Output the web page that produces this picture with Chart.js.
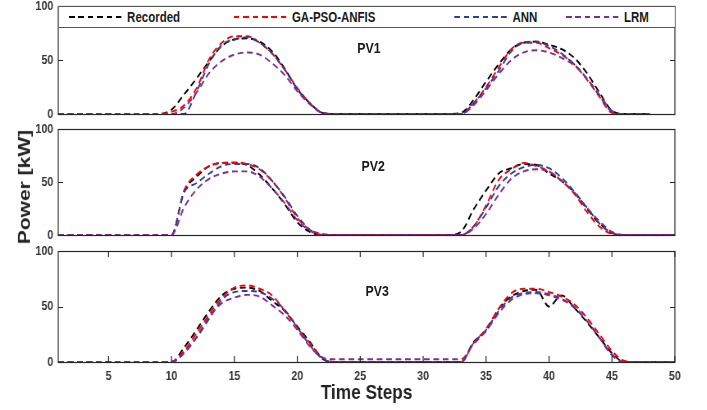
<!DOCTYPE html>
<html>
<head>
<meta charset="utf-8">
<script src="https://cdn.jsdelivr.net/npm/chart.js@4.4.1/dist/chart.umd.min.js"></script>
<style>
  body { margin: 0; background: #fff; overflow: hidden; }
  /* the reference is squeezed horizontally, so draw wider and squeeze */
  #wrap {
    position: relative; width: 862px; height: 410px; overflow: hidden;
    transform: scaleX(0.82); transform-origin: 0 0;
    font-family: 'Liberation Sans', Arial, sans-serif;
    font-weight: bold; color: #1a1a1a;
  }
  canvas { position: absolute; left: 0; }
  .pv { position: absolute; font-size: 15px; transform: translate(-50%, -50%); }
  #ylabel {
    position: absolute; left: 29px; top: 187px; white-space: nowrap;
    font-size: 21px; color: #222;
    transform: translate(-50%, -50%) rotate(-90deg);
  }
  #legend {
    position: absolute; left: 71px; top: 6px; width: 753px; height: 22px;
    box-sizing: border-box; border: 1px solid #555; background: #fff;
  }
  .item { position: absolute; top: 0; height: 20px; }
  .item .sample { position: absolute; left: 0; top: 9px; width: 64px; height: 2px; }
  .item .name { position: absolute; left: 71px; top: 2px; font-size: 14px; white-space: nowrap; }
</style>
</head>
<body>
<div id="wrap">
  <canvas id="p1" width="862" height="121" style="top:0"></canvas>
  <canvas id="p2" width="862" height="120" style="top:122px"></canvas>
  <canvas id="p3" width="862" height="166" style="top:244px"></canvas>
  <div id="legend"></div>
  <div class="pv" style="left:450px; top:47px">PV1</div>
  <div class="pv" style="left:455px; top:165px">PV2</div>
  <div class="pv" style="left:460px; top:290px">PV3</div>
  <div id="ylabel">Power [kW]</div>
</div>
<script>
const steps = [1, 2, 3, 4, 5, 6, 7, 8, 9, 10, 11, 12, 13, 14, 15, 16, 17, 18, 19, 20,
  21, 22, 23, 24, 25, 26, 27, 28, 29, 30, 31, 32, 33, 34, 35, 36, 37, 38, 39, 40,
  41, 42, 43, 44, 45, 46, 47, 48, 49, 50];
const xTickLabels = [5, 10, 15, 20, 25, 30, 35, 40, 45, 50];
const yTicks = [0, 50, 100];

const seriesNames = ['Recorded', 'GA-PSO-ANFIS', 'ANN', 'LRM'];
const seriesColors = ['#000000', '#ff0000', '#2b3f9e', '#7e2f8e'];

// PV1 (ends at step 48)
const recorded1 = [0, 0, 0, 0, 0, 0, 0, 0, 0, 4, 18, 33, 49, 63, 69, 70, 67, 58, 42, 23,
  10, 1, 0, 0, 0, 0, 0, 0, 0, 0, 0, 0, 1, 13, 30, 46, 60, 66, 67, 64,
  60, 52, 38, 20, 3, 0, 0, 0];
const gaPso1 = [0, 0, 0, 0, 0, 0, 0, 0, 0, 2, 8, 24, 51, 66, 72, 72, 66, 56, 41, 24,
  10, 1, 0, 0, 0, 0, 0, 0, 0, 0, 0, 0, 0, 10, 25, 43, 60, 66, 66, 61,
  55, 46, 32, 16, 1, 0, 0, 0];
const ann1 = [0, 0, 0, 0, 0, 0, 0, 0, 0, 0, 0, 21, 47, 64, 69, 71, 66, 56, 41, 23,
  10, 1, 0, 0, 0, 0, 0, 0, 0, 0, 0, 0, 0, 10, 24, 40, 58, 66, 67, 63,
  56, 46, 33, 17, 2, 0, 0, 0];
const lrm1 = [0, 0, 0, 0, 0, 0, 0, 0, 0, 0, 6, 20, 38, 49, 55, 57, 55, 47, 36, 21,
  9, 1, 0, 0, 0, 0, 0, 0, 0, 0, 0, 0, 0, 8, 22, 37, 50, 57, 59, 57,
  52, 45, 33, 18, 3, 0, 0, 0];

// PV2
const recorded2 = [0, 0, 0, 0, 0, 0, 0, 0, 0, 0, 41, 55, 65, 68, 68, 66, 57, 44, 29, 12,
  3, 0, 0, 0, 0, 0, 0, 0, 0, 0, 0, 0, 3, 24, 42, 58, 63, 67, 66, 58,
  51, 40, 25, 11, 2, 0, 0, 0, 0, 0];
const gaPso2 = [0, 0, 0, 0, 0, 0, 0, 0, 0, 0, 42, 57, 65, 68, 68.5, 67, 62, 51, 35, 16,
  5, 1, 0, 0, 0, 0, 0, 0, 0, 0, 0, 0, 0, 8, 28, 52, 62, 68, 65, 60,
  51, 39, 22, 8, 1, 0, 0, 0, 0, 0];
const ann2 = [0, 0, 0, 0, 0, 0, 0, 0, 0, 0, 40, 49, 58, 65, 67, 67, 63, 51, 36, 18,
  5, 0, 0, 0, 0, 0, 0, 0, 0, 0, 0, 0, 0, 8, 26, 46, 58, 64, 66, 63,
  54, 41, 26, 11, 2, 0, 0, 0, 0, 0];
const lrm2 = [0, 0, 0, 0, 0, 0, 0, 0, 0, 0, 26, 43, 53, 58, 60, 60, 55, 44, 30, 14,
  4, 0, 0, 0, 0, 0, 0, 0, 0, 0, 0, 0, 0, 6, 20, 38, 53, 60, 62, 60,
  51, 40, 26, 13, 3, 0, 0, 0, 0, 0];

// PV3
const recorded3 = [0, 0, 0, 0, 0, 0, 0, 0, 0, 0, 13, 29, 46, 60, 66, 67, 64, 55, 46, 32,
  18, 3, 0, 0, 0, 0, 0, 0, 0, 0, 0, 0, 0, 18, 28, 48, 59, 64, 65, 50,
  60, 49, 36, 22, 8, 0, 0, 0, 0, 0];
const gaPso3 = [0, 0, 0, 0, 0, 0, 0, 0, 0, 0, 10, 26, 43, 58, 67, 69, 66, 60, 46, 31,
  17, 4, 0, 0, 0, 0, 0, 0, 0, 0, 0, 0, 0, 17, 30, 48, 62, 66, 66, 63,
  59, 52, 40, 25, 10, 1, 0, 0, 0, 0];
const ann3 = [0, 0, 0, 0, 0, 0, 0, 0, 0, 0, 8, 22, 39, 56, 63, 64, 63, 57, 47, 31,
  15, 3, 0, 0, 0, 0, 0, 0, 0, 0, 0, 0, 0, 17, 29, 46, 58, 62, 63, 61,
  57, 49, 37, 22, 6, 0, 0, 0, 0, 0];
const lrm3 = [0, 0, 0, 0, 0, 0, 0, 0, 0, 0, 8, 23, 41, 53, 58, 60.5, 59, 51, 42, 29,
  14, 4, 2.5, 2.5, 2.5, 2.5, 2.5, 2.5, 2.5, 2.5, 2.5, 2.5, 2.5, 16, 28, 44, 56, 61, 62, 60,
  56, 50, 37, 22, 7, 0, 0, 0, 0, 0];

const panels = [
  [recorded1, gaPso1, ann1, lrm1],
  [recorded2, gaPso2, ann2, lrm2],
  [recorded3, gaPso3, ann3, lrm3],
];

const fontFamily = "'Liberation Sans', Arial, sans-serif";
const tickColor = '#333';

const framePlugin = {
  id: 'frame',
  afterDatasetsDraw(chart, args, opts) {
    const { ctx, chartArea: a, scales: { x, y } } = chart;
    ctx.save();
    ctx.strokeStyle = '#262626';
    ctx.lineWidth = 1.2;
    ctx.strokeRect(a.left, a.top + 0.5, a.right - a.left, a.bottom - a.top);
    ctx.beginPath();
    for (const v of yTicks) {
      const py = Math.round(y.getPixelForValue(v)) + 0.5;
      ctx.moveTo(a.left, py);
      ctx.lineTo(a.left + 6, py);
      ctx.moveTo(a.right - 6, py);
      ctx.lineTo(a.right, py);
    }
    if (opts.xTicks) {
      for (const v of xTickLabels) {
        const px = x.getPixelForValue(steps.indexOf(v));
        ctx.moveTo(px, a.top);
        ctx.lineTo(px, a.top + 6);
        ctx.moveTo(px, a.bottom);
        ctx.lineTo(px, a.bottom - 6);
      }
    }
    ctx.stroke();
    ctx.restore();
  },
};

const createPanel = (id, series, showX, padTop, padBottom) => {
  return new Chart(document.getElementById(id), {
    type: 'line',
    data: {
      labels: steps,
      datasets: series.map((values, i) => ({
        label: seriesNames[i],
        data: values,
        borderColor: seriesColors[i],
        borderWidth: 1.9,
        borderDash: [7, 4.5],
        pointRadius: 0,
        fill: false,
        cubicInterpolationMode: 'monotone',
        order: series.length - i,
      })),
    },
    options: {
      responsive: false,
      animation: false,
      layout: { padding: { left: 0, right: 39, top: padTop, bottom: padBottom } },
      plugins: {
        legend: { display: false },
        tooltip: { enabled: false },
        frame: { xTicks: showX },
      },
      scales: {
        x: {
          display: showX,
          grid: { display: false, drawTicks: false },
          border: { display: false },
          ticks: {
            autoSkip: false,
            maxRotation: 0,
            padding: 7,
            color: tickColor,
            font: { family: fontFamily, size: 13, weight: 'bold' },
            callback: (v, i) => (xTickLabels.includes(steps[i]) ? steps[i] : ''),
          },
          title: {
            display: true,
            text: 'Time Steps',
            color: '#222',
            padding: { top: 0, bottom: 4 },
            font: { family: fontFamily, size: 21, weight: 'bold' },
          },
          afterFit: (s) => {
            if (showX) s.height = 48;
            s.paddingLeft = 0;
            s.paddingRight = 0;
          },
        },
        y: {
          min: 0,
          max: 100,
          grid: { display: false, drawTicks: false },
          border: { display: false },
          afterBuildTicks: (s) => { s.ticks = yTicks.map((v) => ({ value: v })); },
          ticks: {
            padding: 6,
            color: tickColor,
            font: { family: fontFamily, size: 13, weight: 'bold' },
          },
          afterFit: (s) => {
            s.width = 71;
            s.paddingTop = 0;
            s.paddingBottom = 0;
          },
        },
      },
    },
    plugins: [framePlugin],
  });
};

const drawLegend = () => {
  const legend = document.getElementById('legend');
  const lefts = [12, 213, 482, 618];
  seriesNames.forEach((name, i) => {
    const item = document.createElement('div');
    item.className = 'item';
    item.style.left = `${lefts[i]}px`;
    const sample = document.createElement('span');
    sample.className = 'sample';
    sample.style.background = `repeating-linear-gradient(to right, ${seriesColors[i]} 0 7px, transparent 7px 11.5px)`;
    const text = document.createElement('span');
    text.className = 'name';
    text.textContent = name;
    item.append(sample, text);
    legend.append(item);
  });
};

createPanel('p1', panels[0], false, 6, 7);
createPanel('p2', panels[1], false, 7, 7);
createPanel('p3', panels[2], true, 7, 0);
drawLegend();
</script>
</body>
</html>
